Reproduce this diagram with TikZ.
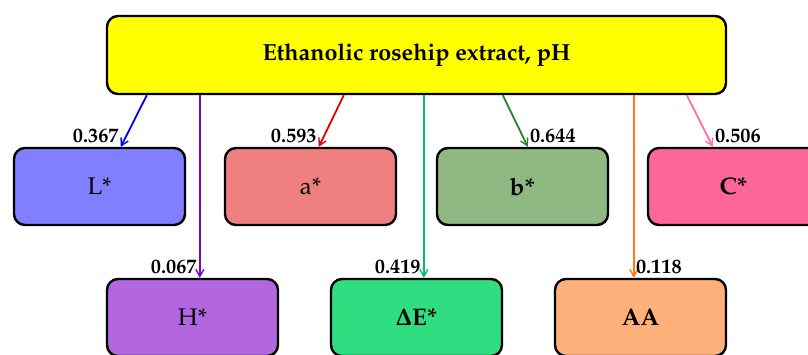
\documentclass[tikz,border=0pt]{standalone}
\usepackage[T1]{fontenc}
\usepackage{mathpazo}
\usetikzlibrary{calc,arrows.meta}
\definecolor{cyel}{RGB}{255,255,0}
\definecolor{cL}{RGB}{128,128,255}
\definecolor{ca}{RGB}{240,128,128}
\definecolor{cb}{RGB}{143,184,131}
\definecolor{cC}{RGB}{255,102,153}
\definecolor{cH}{RGB}{178,102,224}
\definecolor{cE}{RGB}{46,222,128}
\definecolor{cAA}{RGB}{254,176,122}
\definecolor{aL}{RGB}{0,0,255}
\definecolor{aH}{RGB}{128,0,210}
\definecolor{aa}{RGB}{230,0,0}
\definecolor{ab}{RGB}{40,130,40}
\definecolor{aE}{RGB}{0,190,110}
\definecolor{aAA}{RGB}{255,120,20}
\definecolor{aC}{RGB}{255,110,170}
\begin{document}
\begin{tikzpicture}[x=1pt,y=-1pt,
  box/.style={draw=black, line width=2.4pt, rounded corners=11pt, minimum width=171pt, minimum height=77pt, inner sep=0pt, font=\fontsize{24}{26}\selectfont},
  bbox/.style={box, font=\fontsize{24}{26}\selectfont\bfseries},
  conn/.style={line width=1.8pt, -{Straight Barb[length=7pt,width=8pt,line width=1.4pt]}},
  val/.style={inner sep=0pt, font=\fontsize{20.3}{22}\selectfont\bfseries}]
\clip (0,0) rectangle (808,354);
\node[box, fill=cyel, minimum width=619pt, minimum height=78pt, font=\fontsize{23.3}{25}\selectfont\bfseries] (top) at (416.5,55) {Ethanolic rosehip extract, pH};
\node[box, fill=cL] (L) at (99.5,186.5) {L*};
\node[box, fill=ca] (a) at (310.5,186.5) {a*};
\node[bbox, fill=cb] (b) at (522.5,186.5) {b*};
\node[bbox, fill=cC] (C) at (733.5,186.5) {C*};
\node[box, fill=cH] (H) at (192.5,317.5) {H*};
\node[bbox, fill=cE] (E) at (416.5,317.5) {{\boldmath$\Delta$}E*};
\node[bbox, fill=cAA] (AA) at (640.5,317.5) {AA};
% connectors
\draw[conn, aL] ($(top.south west)+(41,0)$) -- ($(L.north west)+(108,0)$) coordinate (tL);
\draw[conn, aH] ($(top.south west)+(94,0)$) -- ($(H.north west)+(94,0)$) coordinate (tH);
\draw[conn, aa] ($(top.south west)+(238,0)$) -- ($(a.north west)+(95,0)$) coordinate (ta);
\draw[conn, ab] ($(top.south west)+(397,0)$) -- ($(b.north west)+(92,0)$) coordinate (tb);
\draw[conn, aE] ($(top.south west)+(318,0)$) -- ($(E.north west)+(94,0)$) coordinate (tE);
\draw[conn, aAA] ($(top.south west)+(528,0)$) -- ($(AA.north west)+(80,0)$) coordinate (tAA);
\draw[conn, aC] ($(top.south west)+(581,0)$) -- ($(C.north west)+(66,0)$) coordinate (tC);
% values
\node[val, anchor=base east] at ($(tL)+(-2,-4)$) {0.367};
\node[val, anchor=base east] at ($(ta)+(-2,-4)$) {0.593};
\node[val, anchor=base west] at ($(tb)+(2,-4)$) {0.644};
\node[val, anchor=base west] at ($(tC)+(2,-4)$) {0.506};
\node[val, anchor=base east] at ($(tH)+(-3,-4)$) {0.067};
\node[val, anchor=base east] at ($(tE)+(-3,-4)$) {0.419};
\node[val, anchor=base west] at ($(tAA)+(2,-4)$) {0.118};
\end{tikzpicture}
\end{document}
